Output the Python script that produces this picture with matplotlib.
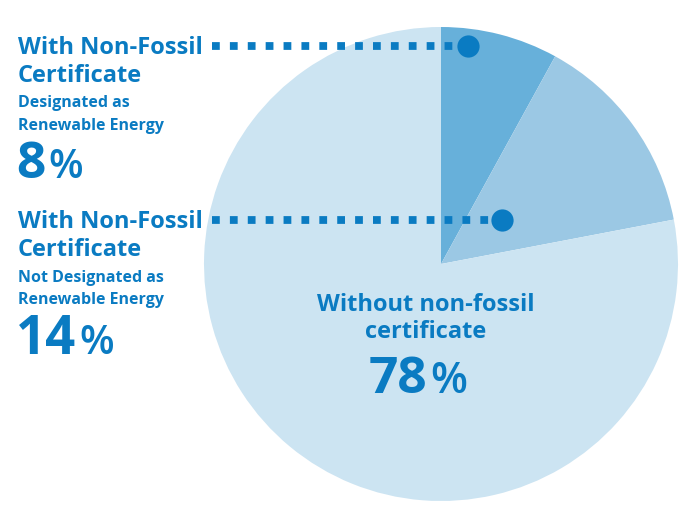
import matplotlib
matplotlib.use("Agg")
import matplotlib.pyplot as plt
from matplotlib import font_manager as fm

# shares of electricity, % (clockwise from top)
labels = ["Designated as Renewable Energy", "Not Designated as Renewable Energy", "Without non-fossil certificate"]
shares = [8, 14, 78]
colors = ["#67b0da", "#9bc8e4", "#cce4f2"]

blue = "#0a7bc2"
H = 520  # figure height in px, used to flip y

# Noto Sans here is a variable font without a usable bold, so look for a static bold
family = "Lato"
for f in fm.fontManager.ttflist:
    if f.name == "Open Sans" and f.weight == 700:
        family = "Open Sans"
        break
plt.rcParams["font.family"] = [family, "DejaVu Sans"]

fig = plt.figure(figsize=(7, 5.2), dpi=100)
ax = fig.add_axes([0, 0, 1, 1])

ax.pie(shares, colors=colors, startangle=90, counterclock=False,
       center=(441, H - 264), radius=237, frame=True,
       wedgeprops=dict(linewidth=0))
ax.set_xlim(0, 700)
ax.set_ylim(0, H)
ax.set_aspect("equal")
ax.axis("off")

# leader lines with dots
for y, xend in [(46, 468), (220, 502)]:
    ax.plot([212, xend], [H - y, H - y], color=blue, lw=5.6,
            linestyle=(0, (1, 1.3)), dash_capstyle="butt", solid_capstyle="butt")
    ax.plot(xend, H - y, "o", color=blue, ms=16, mew=0)


def add_pct(x, y, num, size, pct_size):
    t = ax.text(x, y, num, color=blue, fontsize=size,
                fontweight="bold", va="baseline")
    fig.canvas.draw()
    bb = t.get_window_extent()
    ax.text(bb.x1 + 3, y, "%", color=blue, fontsize=pct_size,
            fontweight="semibold", va="baseline")


def left_block(sub1, pct, big_size, pct_size, ys):
    ax.text(18, H - ys[0], "With Non-Fossil", color=blue, fontsize=17,
            fontweight="bold", va="baseline")
    ax.text(18, H - ys[1], "Certificate", color=blue, fontsize=17,
            fontweight="bold", va="baseline")
    ax.text(18, H - ys[2], sub1, color=blue, fontsize=11.5,
            fontweight="bold", va="baseline")
    ax.text(18, H - ys[3], "Renewable Energy", color=blue, fontsize=11.5,
            fontweight="bold", va="baseline")
    add_pct(16, H - ys[4], pct, big_size, pct_size)


left_block("Designated as", str(shares[0]), 37, 29, [54, 82, 107, 130, 178])
left_block("Not Designated as", str(shares[1]), 38, 29, [228, 256, 282, 304, 354])

# centre label
ax.text(426, H - 311, "Without non-fossil", color=blue, fontsize=17,
        fontweight="bold", ha="center", va="baseline")
ax.text(426, H - 338, "certificate", color=blue, fontsize=17,
        fontweight="bold", ha="center", va="baseline")
add_pct(369, H - 393, str(shares[2]), 37, 31)

fig.savefig("out.png", dpi=100)
